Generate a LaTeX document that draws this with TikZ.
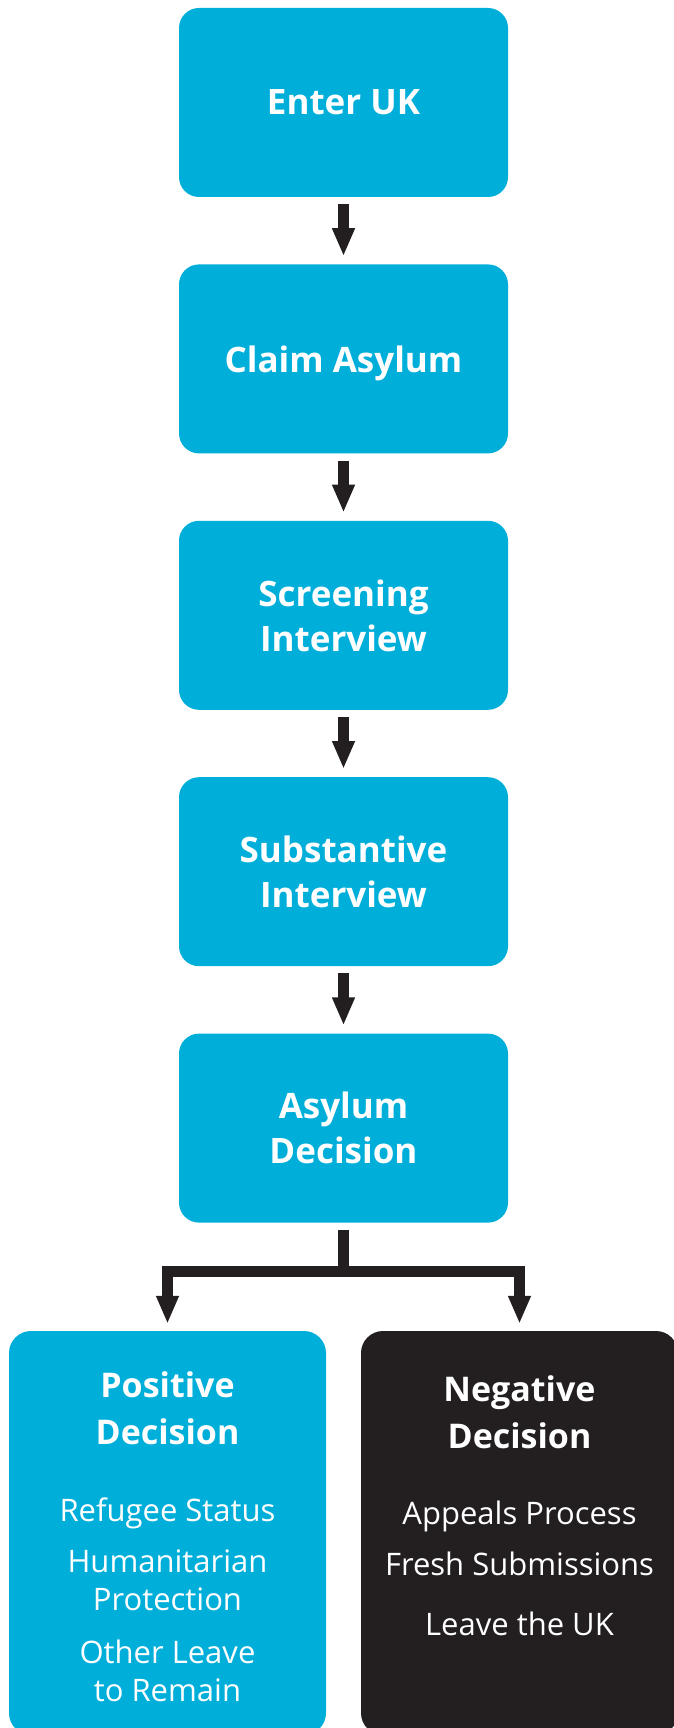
\documentclass[tikz,border=0pt]{standalone}
\usepackage{fontspec}
\setmainfont{Open Sans}
\usetikzlibrary{positioning}
\usetikzlibrary{arrows.meta}

\definecolor{asylumblue}{RGB}{0,174,218}
\definecolor{asylumdark}{RGB}{35,31,32}

\begin{document}
\begin{tikzpicture}[x=1pt,y=-1pt,
  stage/.style={rectangle,rounded corners=20pt,fill=asylumblue,text=white,
    minimum width=329pt,minimum height=189pt,align=center,text depth=0pt,
    font=\fontsize{35}{45}\selectfont\bfseries},
  outcome/.style={rectangle,rounded corners=22pt,minimum width=317pt,
    minimum height=404pt},
  head/.style={text=white,align=center,font=\fontsize{34}{47}\selectfont\bfseries},
  item/.style={text=white,align=center,font=\fontsize{31}{38}\selectfont},
  flow/.style={draw=asylumdark,line width=11pt,line join=miter,
    -{Triangle[width=21pt,length=28pt]},shorten <=7pt,shorten >=7pt}]
\useasboundingbox (0,0) rectangle (674,1728);

\node[stage] (enter) at (343.5,102.5) {Enter UK};
\node[stage,below=67pt of enter] (claim) {Claim Asylum};
\node[stage,below=67pt of claim] (screen) {Screening\\Interview};
\node[stage,below=67pt of screen] (subst) {Substantive\\Interview};
\node[stage,below=67pt of subst] (decide) {Asylum\\Decision};

\draw[flow,shorten >=8pt] (enter) -- (claim);
\draw[flow,shorten >=8pt] (claim) -- (screen);
\draw[flow,shorten >=8pt] (screen) -- (subst);
\draw[flow,shorten >=8pt] (subst) -- (decide);

% the two outcomes
\node[outcome,fill=asylumblue] (pos) at (167.5,1533) {};
\node[outcome,fill=asylumdark] (neg) at (519.5,1533) {};

\coordinate (split) at (343.5,1271.5);
\draw[flow] (decide.south) -- (split) -| (pos.north);
\draw[flow] (decide.south) -- (split) -| (neg.north);

\node[head] (postitle) at (167.5,1408) {Positive\\Decision};
\node[item] (refugee) at (167.5,1513) {Refugee Status};
\node[item] (humane) at (167.5,1580) {Humanitarian\\Protection};
\node[item] (other) at (167.5,1671) {Other Leave\\to Remain};

\node[head] (negtitle) at (519.5,1412) {Negative\\Decision};
\node[item] (appeal) at (519.5,1516) {Appeals Process};
\node[item] (fresh) at (519.5,1564) {Fresh Submissions};
\node[item] (leave) at (519.5,1624) {Leave the UK};
\end{tikzpicture}
\end{document}
